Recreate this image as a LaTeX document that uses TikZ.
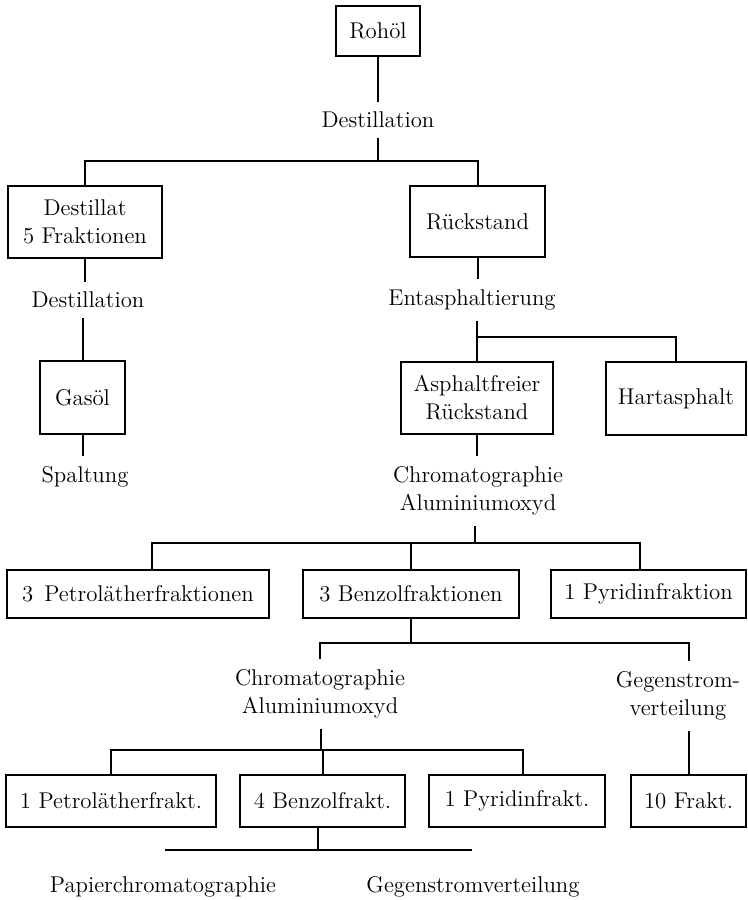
\documentclass[tikz,border=0pt]{standalone}
\begin{document}
\begin{tikzpicture}[
	box/.style={draw, line width=1.1pt, inner sep=2pt, align=center},
	txt/.style={inner xsep=2pt, inner ysep=5pt, align=center},
	link/.style={line width=1pt},
	every node/.style={font=\fontsize{11.4}{14}\selectfont},
	x=0.5pt, y=-0.5pt
]
\useasboundingbox (0,0) rectangle (748,900);

% Boxes (fractions)
\node[box, minimum width=42pt, minimum height=25pt] (rohoel) at (378,31) {Rohöl};
\node[box, minimum width=77pt, minimum height=36pt] (destillat) at (85,222) {Destillat\\5 Fraktionen};
\node[box, minimum width=67.5pt, minimum height=35.5pt] (rueck) at (477.5,221.5) {Rückstand};
\node[box, minimum width=42.5pt, minimum height=36.5pt] (gasoel) at (82.5,397.5) {Gasöl};
\node[box, minimum width=76pt, minimum height=36pt] (asphfrei) at (477,398) {Asphaltfreier\\Rückstand};
\node[box, minimum width=70pt, minimum height=36.5pt] (hart) at (676,398.5) {Hartasphalt};

\node[box, minimum width=131pt, minimum height=24pt] (petrol3) at (138,594) {3\hspace{5.5pt}Petrolätherfraktionen};
\node[box, minimum width=108pt, minimum height=24pt] (benzol3) at (411,594) {3 Benzolfraktionen};
\node[box, minimum width=97.5pt, minimum height=24pt] (pyridin1) at (648.5,594) {1 Pyridinfraktion};

\node[box, minimum width=105pt, minimum height=26pt] (petrolfr) at (111,801) {1 Petrolätherfrakt.};
\node[box, minimum width=82.5pt, minimum height=26pt] (benzolfr) at (322.5,801) {4 Benzolfrakt.};
\node[box, minimum width=88pt, minimum height=26pt] (pyridfr) at (517,801) {1 Pyridinfrakt.};
\node[box, minimum width=57.5pt, minimum height=26pt] (zehn) at (688.5,801) {10 Frakt.};

% Methods
\node[txt] (dest1) at (378,120) {Destillation};
\node[txt] (dest2) at (88,300) {Destillation};
\node[txt] (entasph) at (472,300) {Entasphaltierung};
\node[txt] (spalt) at (85,477) {Spaltung};
\node[txt] (chrom1) at (478,491) {Chromatographie\\Aluminiumoxyd};
\node[txt] (chrom2) at (320,694) {Chromatographie\\Aluminiumoxyd};
\node[txt] (gegen1) at (678,696) {Gegenstrom-\\verteilung};
\node[txt] (papier) at (163,887) {Papierchromatographie};
\node[txt] (gegen2) at (473,887) {Gegenstromverteilung};

% Branch points
\coordinate (bar1) at (378,161);
\coordinate (bar2) at (477,337);
\coordinate (bar3) at (475,543);
\coordinate (bar4) at (411,643);
\coordinate (bar5) at (321,750);
\coordinate (bar6l) at (165,850);
\coordinate (bar6r) at (472,850);

% Connectors
\draw[link] (rohoel) -- (dest1);
\draw[link] (dest1) -- (bar1);
\draw[link] (destillat.north) |- (bar1) -| (rueck.north);

\draw[link] (destillat.south) -- (destillat |- dest2.north);
\draw[link] (gasoel.north) -- (gasoel |- dest2.south);
\draw[link] (gasoel.south) -- (gasoel |- spalt.north);

\draw[link] (rueck) -- (rueck |- entasph.north);
\draw[link] (asphfrei |- entasph.south) -- (asphfrei);
\draw[link] (bar2) -| (hart.north);

\draw[link] (asphfrei) -- (asphfrei |- chrom1.north);
\draw[link] (bar3) -- (bar3 |- chrom1.south);
\draw[link] ([xshift=7pt]petrol3.north) |- (bar3) -| ([xshift=-4.5pt]pyridin1.north);
\draw[link] (benzol3.north) -- (benzol3 |- bar3);

\draw[link] (benzol3) -- (bar4);
\draw[link] (chrom2.north) |- (bar4) -| (zehn |- gegen1.north);

\draw[link] (bar5) -- (bar5 |- chrom2.south);
\draw[link] (petrolfr.north) |- (bar5) -| ([xshift=3pt]pyridfr.north);
\draw[link] (benzolfr.north) -- (benzolfr |- bar5);
\draw[link] (zehn.north) -- (zehn |- gegen1.south);

\draw[link] ([xshift=-2.5pt]benzolfr.south) -- ([xshift=-2.5pt]benzolfr.south |- bar6l);
\draw[link] (bar6l) -- (bar6r);
\end{tikzpicture}
\end{document}
